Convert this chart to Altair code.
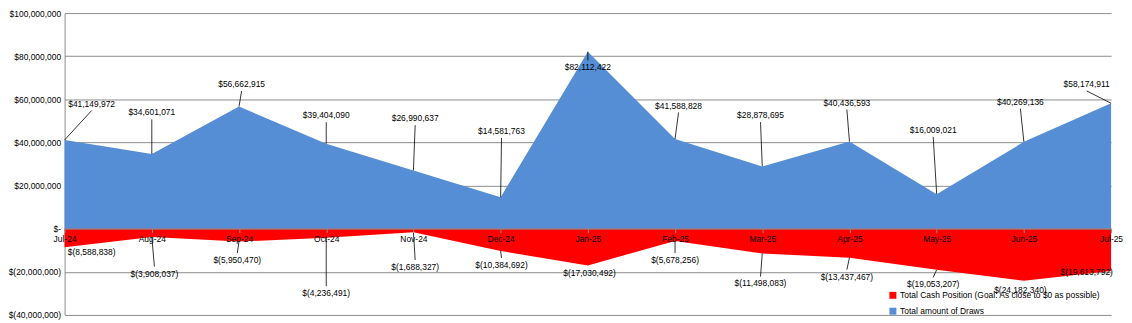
import json
import altair as alt
import pandas as pd

# ---- data ----
months = ['Jul-24', 'Aug-24', 'Sep-24', 'Oct-24', 'Nov-24', 'Dec-24', 'Jan-25',
          'Feb-25', 'Mar-25', 'Apr-25', 'May-25', 'Jun-25', 'Jul-25']
draws = [41149972, 34601071, 56662915, 39404090, 26990637, 14581763, 82112422,
         41588828, 28878695, 40436593, 16009021, 40269136, 58174911]
cash = [-8588838, -3908037, -5950470, -4236491, -1688327, -10384692, -17030492,
        -5678256, -11498083, -13437467, -19053207, -24182340, -19613792]

CASH = 'Total Cash Position (Goal: As close to $0 as possible)'
DRAWS = 'Total amount of Draws'

# data-label placement (month index, $ millions)
draw_label_x = [0.31, 1.0, 2.03, 3.0, 4.02, 5.01, 6.0, 7.04, 7.98, 8.97, 9.96, 10.96, 11.72]
draw_label_y = [58.0, 53.9, 67.1, 52.6, 51.2, 45.3, 74.8, 57.1, 52.6, 58.5, 45.8, 58.9, 67.1]
cash_label_x = [0.31, 1.03, 1.98, 3.0, 4.02, 5.01, 6.02, 7.0, 7.98, 8.97, 9.96, 10.96, 11.72]
cash_label_y = [-10.9, -20.8, -14.5, -29.9, -17.7, -16.8, -20.4, -14.5, -25.4, -22.2, -25.8, -28.5, -19.9]

FONT = 'Liberation Sans'
FS = 8.5
HALF = 3.2  # half label height in $M


def acct(v):
    if v == 0:
        return '$-'
    if v < 0:
        return '$(' + f'{-v:,}' + ')'
    return '$' + f'{v:,}'


draws_df = pd.DataFrame({'i': list(range(len(months))), 'v': draws, 'series': DRAWS})
cash_df = pd.DataFrame({'i': list(range(len(months))), 'v': cash, 'series': CASH})

lab_rows = []
for vals, lxs, lys in [(draws, draw_label_x, draw_label_y), (cash, cash_label_x, cash_label_y)]:
    for i, v in enumerate(vals):
        ly = lys[i]
        vm = v / 1e6
        d = 1 if ly > vm else -1
        end = ly - d * HALF
        show = (end - vm) * d > 1.5
        lab_rows.append({'i': i, 'v': v, 'lx': lxs[i], 'ly': ly * 1e6,
                         'ey': end * 1e6, 'show': bool(show), 'text': acct(v)})
lab_df = pd.DataFrame(lab_rows)

W, H = 1054, 304
zero_px = H * 100 / 140

xscale = alt.Scale(domain=[0, 12], nice=False, zero=False)
yscale = alt.Scale(domain=[-40e6, 100e6], nice=False, zero=False)

xaxis = alt.Axis(
    values=list(range(13)), title=None, grid=False,
    labelExpr=json.dumps(months) + '[datum.value]',
    offset=-(H - zero_px), domainColor='#8c8c8c', tickColor='#8c8c8c',
    tickSize=4, labelPadding=2, labelFont=FONT, labelFontSize=FS, labelColor='black',
    labelOverlap=False, labelFlush=False, labelBound=False, zindex=1,
)
yaxis = alt.Axis(
    values=[-40e6, -20e6, 0, 20e6, 40e6, 60e6, 80e6, 100e6], title=None,
    grid=True, gridColor='#8c8c8c', gridWidth=1, domainColor='#8c8c8c',
    ticks=False, labelPadding=4, labelFont=FONT, labelFontSize=FS, labelColor='black',
    labelExpr="datum.value == 0 ? '$-\u00a0\u00a0' : (datum.value < 0 ? '$(' + format(-datum.value, ',') + ')' : '$' + format(datum.value, ','))",
    labelOverlap=False, labelBound=False,
)

color = alt.Color(
    'series:N',
    scale=alt.Scale(domain=[CASH, DRAWS], range=['#ff0000', '#558ed5']),
    legend=alt.Legend(orient='none', legendX=830, legendY=280, title=None,
                      symbolType='square', symbolSize=49, symbolStrokeWidth=0,
                      labelFont=FONT, labelFontSize=FS, labelColor='black',
                      rowPadding=7, labelOffset=3, padding=0, labelLimit=400),
)


def area_layer(df):
    return alt.Chart(df).mark_area(opacity=1).encode(
        x=alt.X('i:Q', scale=xscale, axis=xaxis),
        y=alt.Y('v:Q', scale=yscale, axis=yaxis, stack=None),
        color=color,
    )


leaders = alt.Chart(lab_df).transform_filter('datum.show').mark_rule(
    color='black', strokeWidth=0.8
).encode(
    x=alt.X('i:Q', scale=xscale, axis=xaxis),
    y=alt.Y('v:Q', scale=yscale, axis=yaxis),
    x2='lx:Q', y2='ey:Q',
)

labels = alt.Chart(lab_df).mark_text(
    font=FONT, fontSize=FS, color='black', align='center', baseline='middle'
).encode(
    x=alt.X('lx:Q', scale=xscale, axis=xaxis),
    y=alt.Y('ly:Q', scale=yscale, axis=yaxis),
    text='text:N',
)

chart = alt.layer(area_layer(draws_df), area_layer(cash_df), leaders, labels).properties(
    width=W, height=H,
    autosize=alt.AutoSizeParams(type='none'),
    padding={'left': 57, 'top': 4, 'right': 13, 'bottom': 5},
    background='white',
).configure_view(stroke=None)

chart.save('out.html', embed_options={'renderer': 'svg', 'actions': False})
